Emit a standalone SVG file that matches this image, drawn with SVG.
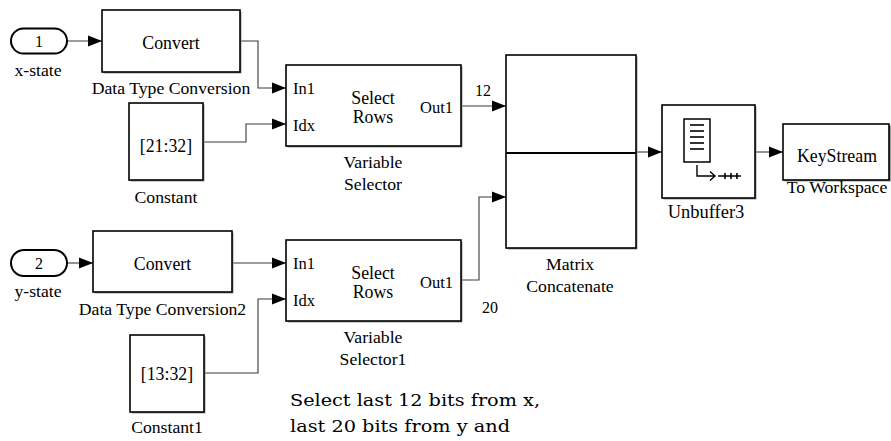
<svg xmlns="http://www.w3.org/2000/svg" width="891" height="441" viewBox="0 0 891 441">
<defs>
<marker id="arr" markerUnits="userSpaceOnUse" markerWidth="14" markerHeight="12" refX="14" refY="6" orient="auto"><path d="M0,0.5 L14,6 L0,11.5 z" fill="#000"/></marker>
<style>
.blk{fill:#fff;stroke:#000;stroke-width:1.6}
.shd{fill:#9a9a9a}
.port{fill:#fff;stroke:#000;stroke-width:2}
.ln{fill:none;stroke:#3a3a3a;stroke-width:1.1;marker-end:url(#arr)}
text{font-family:"Liberation Serif","Times New Roman",serif;fill:#000}
.in{font-family:"Liberation Serif","Times New Roman",serif;font-size:17.8px;text-anchor:middle}
.lbl{font-family:"Liberation Serif","Times New Roman",serif;font-size:17.7px;text-anchor:middle}
.num{font-family:"Liberation Serif","Times New Roman",serif;font-size:16px;text-anchor:middle}
.pl{font-family:"Liberation Serif","Times New Roman",serif;font-size:16.5px}
.cm{font-family:"DejaVu Serif",serif;font-size:16px}
</style>
</defs>
<rect width="891" height="441" fill="#fff"/>
<g id="connectors">
<path class="ln" d="M67,41 H102"/>
<path class="ln" d="M240,41 H258 V88 H286"/>
<path class="ln" d="M203,142 H246 V124 H286"/>
<path class="ln" d="M461,106 H506"/>
<path class="ln" d="M67,263 H93"/>
<path class="ln" d="M232,263 H286"/>
<path class="ln" d="M204,373 H258 V299 H286"/>
<path class="ln" d="M461,280 H479 V197 H506"/>
<path class="ln" d="M636,152 H662"/>
<path class="ln" d="M755,152 H783"/>
<text class="num" x="483" y="96">12</text>
<text class="num" x="490" y="313">20</text>
</g>
<g id="inport1">
<rect class="port" x="11" y="28.5" width="56" height="25" rx="12.5"/>
<text class="num" x="39" y="46.5">1</text>
<text class="lbl" x="38" y="76">x-state</text>
</g>
<g id="convert1">
<rect class="shd" x="103.5" y="11.5" width="138" height="62"/>
<rect class="blk" x="102" y="10" width="138" height="62"/>
<text class="in" x="171" y="49">Convert</text>
<text class="lbl" x="171" y="94">Data Type Conversion</text>
</g>
<g id="constant">
<rect class="shd" x="130.5" y="104.5" width="74" height="77"/>
<rect class="blk" x="129" y="103" width="74" height="77"/>
<text class="in" x="166" y="152">[21:32]</text>
<text class="lbl" x="166" y="203">Constant</text>
</g>
<g id="selector1">
<rect class="shd" x="287.5" y="66.5" width="175" height="81"/>
<rect class="blk" x="286" y="65" width="175" height="81"/>
<text class="pl" x="293" y="94">In1</text>
<text class="pl" x="293" y="131">Idx</text>
<text class="in" x="373" y="104">Select</text>
<text class="in" x="373" y="123">Rows</text>
<text class="pl" x="453" y="113" text-anchor="end">Out1</text>
<text class="lbl" x="373" y="168">Variable</text>
<text class="lbl" x="373" y="190">Selector</text>
</g>
<g id="inport2">
<rect class="port" x="11" y="250" width="56" height="26" rx="13"/>
<text class="num" x="39" y="268.5">2</text>
<text class="lbl" x="38" y="297">y-state</text>
</g>
<g id="convert2">
<rect class="shd" x="94.5" y="232.5" width="139" height="61"/>
<rect class="blk" x="93" y="231" width="139" height="61"/>
<text class="in" x="162.5" y="270">Convert</text>
<text class="lbl" x="162.5" y="315">Data Type Conversion2</text>
</g>
<g id="constant1">
<rect class="shd" x="131.5" y="336.5" width="74" height="77"/>
<rect class="blk" x="130" y="335" width="74" height="77"/>
<text class="in" x="167" y="380">[13:32]</text>
<text class="lbl" x="167" y="433">Constant1</text>
</g>
<g id="selector2">
<rect class="shd" x="287.5" y="241.5" width="175" height="81"/>
<rect class="blk" x="286" y="240" width="175" height="81"/>
<text class="pl" x="293" y="269">In1</text>
<text class="pl" x="293" y="306">Idx</text>
<text class="in" x="373" y="279">Select</text>
<text class="in" x="373" y="298">Rows</text>
<text class="pl" x="453" y="288" text-anchor="end">Out1</text>
<text class="lbl" x="373" y="343">Variable</text>
<text class="lbl" x="373" y="365">Selector1</text>
</g>
<g id="matrix-concatenate">
<rect class="shd" x="507.5" y="56.5" width="130" height="193"/>
<rect class="blk" x="506" y="55" width="130" height="193"/>
<line x1="506" y1="153" x2="636" y2="153" stroke="#000" stroke-width="2"/>
<text class="lbl" x="570" y="270">Matrix</text>
<text class="lbl" x="570" y="292">Concatenate</text>
</g>
<g id="unbuffer3">
<rect class="shd" x="663.5" y="106.5" width="93" height="93"/>
<rect class="blk" x="662" y="105" width="93" height="93"/>
<rect x="684" y="119" width="26" height="43" fill="#fff" stroke="#000" stroke-width="1.5"/>
<g stroke="#000" stroke-width="1.6">
<line x1="690" y1="125" x2="704" y2="125"/>
<line x1="690" y1="131" x2="704" y2="131"/>
<line x1="690" y1="137" x2="704" y2="137"/>
<line x1="690" y1="143" x2="704" y2="143"/>
<line x1="690" y1="149" x2="704" y2="149"/>
</g>
<path d="M697,165 V176 H715 M710,171.5 L715,176 L710,180.5" fill="none" stroke="#000" stroke-width="1.4"/>
<path d="M718,176 H741 M725,173 V179 M731,173 V179 M737,173 V179" fill="none" stroke="#000" stroke-width="1.6"/>
<text class="lbl" x="706" y="218" style="font-size:18.5px">Unbuffer3</text>
</g>
<g id="to-workspace">
<rect class="shd" x="784.5" y="125.5" width="107" height="56"/>
<rect class="blk" x="783" y="124" width="106" height="56"/>
<text class="in" x="837" y="162">KeyStream</text>
<text class="lbl" x="837" y="193">To Workspace</text>
</g>
<g id="comment">
<text class="cm" x="290" y="406" textLength="250" lengthAdjust="spacingAndGlyphs">Select last 12 bits from x,</text>
<text class="cm" x="290" y="432" textLength="220" lengthAdjust="spacingAndGlyphs">last 20 bits from y and</text>
</g>
</svg>
